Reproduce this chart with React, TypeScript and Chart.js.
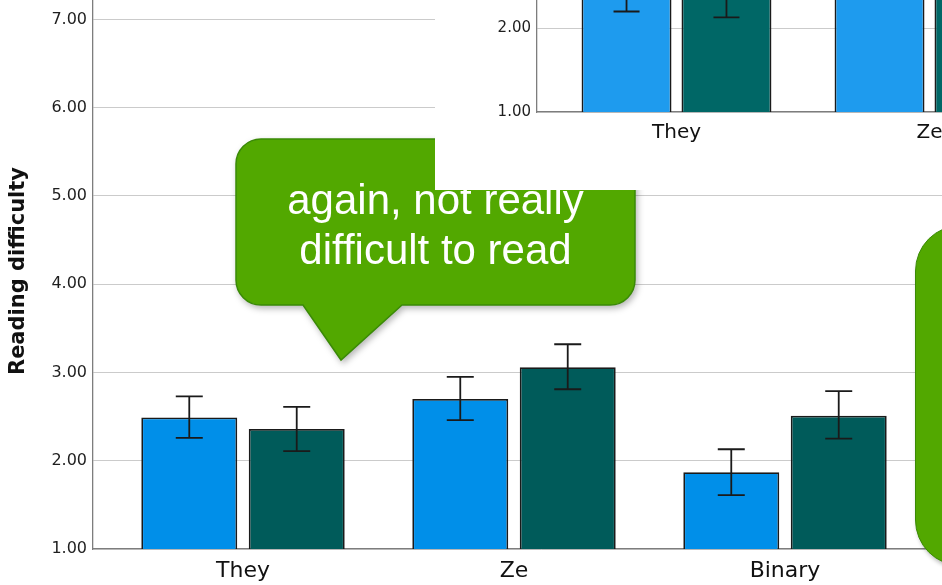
import React, { useEffect, useRef } from "react";
import { Chart, registerables } from "chart.js";

Chart.register(...registerables);

// ---- Main chart data ----
const CATEGORIES = ["They", "Ze", "Binary"];
const SERIES_NAMES = ["Group A", "Group B"];
const BLUE_MEANS = [2.49, 2.7, 1.87];
const BLUE_LOW = [2.26, 2.46, 1.61];
const BLUE_HIGH = [2.73, 2.95, 2.13];
const TEAL_MEANS = [2.36, 3.06, 2.51];
const TEAL_LOW = [2.11, 2.81, 2.25];
const TEAL_HIGH = [2.61, 3.32, 2.79];
const Y_TITLE = "Reading difficulty";

// ---- Inset chart data ----
const INSET_CATEGORIES = ["They", "Ze"];
const INSET_BLUE_MEANS = [2.45, 2.68];
const INSET_BLUE_LOW = [2.2, 2.43];
const INSET_BLUE_HIGH = [2.7, 2.93];
const INSET_TEAL_MEANS = [2.38, 3.0];
const INSET_TEAL_LOW = [2.13, 2.75];
const INSET_TEAL_HIGH = [2.63, 3.25];

const BUBBLE_TEXT = ["again, not really", "difficult to read"];

const errorBars = {
  id: "errorBars",
  afterDatasetsDraw(chart: any, _args: any, opts: any) {
    const { ctx } = chart;
    const y = chart.scales.y;
    chart.data.datasets.forEach((ds: any, di: number) => {
      const meta = chart.getDatasetMeta(di);
      meta.data.forEach((bar: any, i: number) => {
        const lo = y.getPixelForValue(ds.errLow[i]);
        const hi = y.getPixelForValue(ds.errHigh[i]);
        const half = opts.cap / 2;
        ctx.save();
        ctx.strokeStyle = opts.color;
        ctx.lineWidth = opts.width;
        ctx.beginPath();
        ctx.moveTo(bar.x, lo);
        ctx.lineTo(bar.x, hi);
        ctx.moveTo(bar.x - half, lo);
        ctx.lineTo(bar.x + half, lo);
        ctx.moveTo(bar.x - half, hi);
        ctx.lineTo(bar.x + half, hi);
        ctx.stroke();
        ctx.restore();
      });
    });
  },
};

function makeConfig(p: any) {
  const cats: string[] = p.cats;
  const ds = (label: string, means: number[], low: number[], high: number[], color: string) => ({
    label,
    data: cats.map((_, i) => ({ x: i, y: means[i] })),
    backgroundColor: color,
    borderColor: "#1a1a1a",
    borderWidth: 1.8,
    errLow: low,
    errHigh: high,
    categoryPercentage: p.catPct,
    barPercentage: p.barPct,
  });
  const yScale: any = {
    type: "linear",
    min: 1,
    max: p.yMax,
    grid: { color: "#cbcbcb", drawTicks: false, lineWidth: 1 },
    border: { display: true, color: "#7d7d7d", width: 1.3 },
    ticks: {
      stepSize: 1,
      padding: 6,
      color: "#1e1e1e",
      font: { family: "DejaVu Sans", size: p.tickSize },
      callback: (v: any) => Number(v).toFixed(2),
    },
    afterBuildTicks: (s: any) => {
      s.ticks = s.ticks.filter((t: any) => Math.abs(t.value - Math.round(t.value)) < 1e-9);
    },
    afterFit: (s: any) => {
      s.width = p.axisLeft;
    },
  };
  if (p.title) {
    yScale.title = {
      display: true,
      text: p.title,
      color: "#111",
      font: { family: "DejaVu Sans", size: 21, weight: "bold" },
      padding: { top: 6, bottom: 0 },
    };
  }
  return {
    type: "bar",
    data: {
      datasets: [
        ds(SERIES_NAMES[0], p.blue, p.blueLow, p.blueHigh, p.blueColor),
        ds(SERIES_NAMES[1], p.teal, p.tealLow, p.tealHigh, p.tealColor),
      ],
    },
    options: {
      animation: false,
      responsive: false,
      maintainAspectRatio: false,
      layout: { padding: { top: p.padTop, right: p.padRight, left: 0, bottom: 0 } },
      plugins: {
        legend: { display: false },
        tooltip: { enabled: false },
        errorBars: { cap: p.cap, width: 1.8, color: "#1a1a1a" },
      },
      scales: {
        x: {
          type: "linear",
          offset: false,
          min: p.xMin,
          max: p.xMax,
          grid: { display: false, drawTicks: false, offset: false },
          border: { display: true, color: "#7d7d7d", width: 1.3 },
          ticks: {
            padding: p.xPad,
            color: "#111",
            font: { family: "DejaVu Sans", size: p.xSize },
            callback: (v: any) => cats[v] ?? "",
          },
          afterBuildTicks: (s: any) => {
            s.ticks = cats.map((_, i) => ({ value: i }));
          },
          afterFit: (s: any) => {
            s.height = p.xHeight;
          },
        },
        y: yScale,
      },
    },
    plugins: [errorBars],
  };
}

function ChartCanvas({ config, width, height, style }: any) {
  const ref = useRef<HTMLCanvasElement | null>(null);
  useEffect(() => {
    if (!ref.current) return;
    const c = new Chart(ref.current, config);
    return () => c.destroy();
  }, []);
  return (
    <canvas
      ref={ref}
      width={width}
      height={height}
      style={{ position: "absolute", width, height, ...style }}
    />
  );
}

// main chart geometry: 1.00 at y=549, 7.00 at y=19 ; axis x=93 ; They center 243, spacing 271
const MAIN_W = 1000;
const MAIN_PAD_TOP = 30;
const MAIN_X_HEIGHT = 36;
const MAIN_AREA_TOP = -7.5;
const MAIN_AREA_BOTTOM = 549;
const MAIN_CANVAS_TOP = MAIN_AREA_TOP - MAIN_PAD_TOP;
const MAIN_H = MAIN_AREA_BOTTOM - MAIN_AREA_TOP + MAIN_PAD_TOP + MAIN_X_HEIGHT;
const MAIN_X_MIN = -(243 - 93) / 271;
const MAIN_X_MAX = MAIN_X_MIN + (MAIN_W - 93 - 10) / 271;

const mainConfig = makeConfig({
  cats: CATEGORIES,
  blue: BLUE_MEANS,
  blueLow: BLUE_LOW,
  blueHigh: BLUE_HIGH,
  teal: TEAL_MEANS,
  tealLow: TEAL_LOW,
  tealHigh: TEAL_HIGH,
  blueColor: "#008fe9",
  tealColor: "#005b5a",
  catPct: 0.793,
  barPct: 0.893,
  yMax: 7.3,
  tickSize: 16,
  axisLeft: 93,
  title: Y_TITLE,
  padTop: MAIN_PAD_TOP,
  padRight: 10,
  cap: 27,
  xMin: MAIN_X_MIN,
  xMax: MAIN_X_MAX,
  xPad: 9,
  xSize: 22,
  xHeight: MAIN_X_HEIGHT,
});

// inset geometry (local to box at 435,0): axis x=102, 1.00 at y=112, 2.00 at y=28, They center 241.5, spacing 253
const INSET_W = 600;
const INSET_PAD_TOP = 20;
const INSET_X_HEIGHT = 40;
const INSET_AREA_BOTTOM = 112;
const INSET_Y_MAX = 2.6;
const INSET_AREA_TOP = INSET_AREA_BOTTOM - (INSET_Y_MAX - 1) * 84;
const INSET_CANVAS_TOP = INSET_AREA_TOP - INSET_PAD_TOP;
const INSET_H = INSET_AREA_BOTTOM - INSET_AREA_TOP + INSET_PAD_TOP + INSET_X_HEIGHT;
const INSET_X_MIN = -(241.5 - 102) / 253;
const INSET_X_MAX = INSET_X_MIN + (INSET_W - 102 - 10) / 253;

const insetConfig = makeConfig({
  cats: INSET_CATEGORIES,
  blue: INSET_BLUE_MEANS,
  blueLow: INSET_BLUE_LOW,
  blueHigh: INSET_BLUE_HIGH,
  teal: INSET_TEAL_MEANS,
  tealLow: INSET_TEAL_LOW,
  tealHigh: INSET_TEAL_HIGH,
  blueColor: "#1e9bee",
  tealColor: "#006766",
  catPct: 0.79,
  barPct: 0.9,
  yMax: INSET_Y_MAX,
  tickSize: 15,
  axisLeft: 102,
  title: null,
  padTop: INSET_PAD_TOP,
  padRight: 10,
  cap: 26,
  xMin: INSET_X_MIN,
  xMax: INSET_X_MAX,
  xPad: 9,
  xSize: 20,
  xHeight: INSET_X_HEIGHT,
});

const GREEN = "#52a800";
const GREEN_EDGE = "#3a8a06";

export default function App() {
  return (
    <div
      style={{
        position: "absolute",
        left: 0,
        top: 0,
        width: 942,
        height: 585,
        overflow: "hidden",
        background: "#fff",
      }}
    >
      <ChartCanvas config={mainConfig} width={MAIN_W} height={MAIN_H} style={{ left: 0, top: MAIN_CANVAS_TOP }} />

      {/* speech bubble 1 */}
      <svg
        width={942}
        height={585}
        style={{ position: "absolute", left: 0, top: 0, filter: "drop-shadow(2px 3px 3px rgba(0,0,0,0.28))" }}
      >
        <path
          d="M 261 139 H 610 A 25 25 0 0 1 635 164 V 280 A 25 25 0 0 1 610 305 H 402 L 341 360 L 303 305 H 261 A 25 25 0 0 1 236 280 V 164 A 25 25 0 0 1 261 139 Z"
          fill={GREEN}
          stroke={GREEN_EDGE}
          strokeWidth={1.5}
        />
      </svg>
      <div
        style={{
          position: "absolute",
          left: 236,
          top: 139,
          width: 399,
          height: 166,
          paddingTop: 5,
          boxSizing: "border-box",
          display: "flex",
          alignItems: "center",
          justifyContent: "center",
          textAlign: "center",
          color: "#fff",
          fontFamily: "'Liberation Sans', Arial, sans-serif",
          fontSize: 42,
          lineHeight: "50px",
        }}
      >
        <div>
          {BUBBLE_TEXT[0]}
          <br />
          {BUBBLE_TEXT[1]}
        </div>
      </div>

      {/* inset chart box */}
      <div
        style={{
          position: "absolute",
          left: 435,
          top: 0,
          width: 507,
          height: 190,
          overflow: "hidden",
          background: "#fff",
        }}
      >
        <ChartCanvas config={insetConfig} width={INSET_W} height={INSET_H} style={{ left: 0, top: INSET_CANVAS_TOP }} />
      </div>

      {/* speech bubble 2 */}
      <div
        style={{
          position: "absolute",
          left: 915,
          top: 225,
          width: 120,
          height: 341,
          boxSizing: "border-box",
          background: GREEN,
          border: `1.5px solid ${GREEN_EDGE}`,
          borderRadius: 46,
          boxShadow: "2px 3px 4px rgba(0,0,0,0.28)",
        }}
      />
    </div>
  );
}
